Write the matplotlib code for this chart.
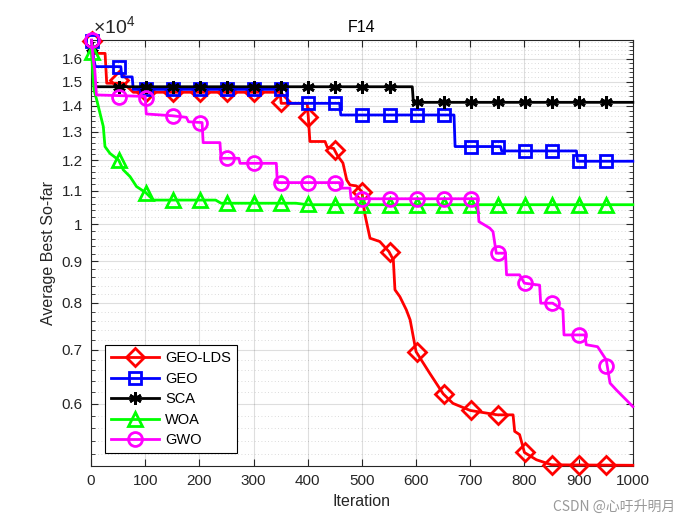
import numpy as np
import matplotlib
matplotlib.use("Agg")
import matplotlib.pyplot as plt
from matplotlib.ticker import FixedLocator, NullFormatter

plt.rcParams['font.family'] = ['Liberation Sans', 'Noto Sans CJK SC', 'DejaVu Sans']
plt.rcParams['mathtext.fontset'] = 'custom'
plt.rcParams['mathtext.rm'] = 'Liberation Sans'

# ---- data ----
names = ["GEO-LDS", "GEO", "SCA", "WOA", "GWO"]
colors = ["#FF0000", "#0000FF", "#000000", "#00FF00", "#FF00FF"]
markers = ["D", "s", (6, 2, 0), "^", "o"]

# curve vertices (iteration, value)
lds_it = [1, 6, 26, 29, 60, 78, 349, 351, 399, 401, 404, 432, 436, 448, 455, 465,
          472, 478, 490, 500, 505, 515, 533, 550, 558, 561, 570, 582, 589, 600,
          625, 650, 668, 700, 750, 779, 782, 791, 800, 822, 850, 1000]
lds_val = [16850, 16250, 16250, 14930, 14930, 14550, 14550, 14100, 14100, 13580,
           12650, 12650, 12450, 12400, 12150, 11900, 11340, 11180, 11150, 10970,
           10320, 9610, 9520, 9250, 9036, 8300, 8140, 7840, 7620, 6960, 6550, 6175,
           6010, 5890, 5817, 5817, 5550, 5500, 5227, 5120, 5047, 5040]

geo_it = [1, 5, 8, 55, 57, 76, 78, 361, 363, 459, 461, 670, 672, 756, 758, 896, 898, 1000]
geo_val = [16850, 16000, 15650, 15650, 15200, 15200, 14670, 14670, 14100, 14100,
           13640, 13640, 12470, 12470, 12315, 12315, 11960, 11960]

sca_it = [1, 6, 593, 595, 1000]
sca_val = [16500, 14780, 14780, 14140, 14140]

woa_it = [1, 3, 5.5, 10.5, 16.6, 22.7, 25.8, 35, 51, 59.6, 72, 78, 84, 101, 115,
          230, 240, 378, 400, 1000]
woa_val = [16300, 15500, 14650, 14240, 13710, 13200, 12470, 12230, 12000, 11670,
           11450, 11290, 11130, 10940, 10710, 10710, 10615, 10615, 10570, 10570]

gwo_it = [1, 4, 7, 10, 100, 102, 150, 176, 180, 205, 207, 238, 240, 273, 275, 342,
          344, 459, 461, 478, 480, 713, 716, 736, 742, 748, 765, 767, 791, 800, 828,
          830, 852, 871, 873, 912, 914, 935, 951, 958, 970, 1000]
gwo_val = [16880, 16000, 15500, 14440, 14380, 13680, 13610, 13550, 13380, 13350,
           12610, 12610, 12060, 12060, 11890, 11890, 11255, 11255, 11080, 11080,
           10750, 10750, 10074, 9890, 9790, 9210, 9210, 8660, 8660, 8457, 8410,
           7990, 7990, 7840, 7300, 7300, 7100, 7060, 6800, 6366, 6240, 5956]

# marker values at iterations 1, 51, ..., 951
mk_it = list(range(1, 1000, 50))
lds_mk = [16850, 15050, 14550, 14550, 14550, 14550, 14550, 14150, 13580, 12350,
          10970, 9250, 6960, 6175, 5890, 5817, 5227, 5047, 5040, 5040]
geo_mk = [16850, 15650, 14670, 14670, 14670, 14670, 14670, 14670, 14100, 14100,
          13640, 13640, 13640, 13640, 12470, 12470, 12315, 12315, 11960, 11960]
sca_mk = [16500] + [14780] * 11 + [14140] * 8
woa_mk = [16300, 12000, 10940, 10710, 10710, 10615, 10615, 10615, 10600, 10570,
          10570, 10570, 10570, 10570, 10570, 10570, 10570, 10570, 10570, 10570]
gwo_mk = [16880, 14370, 14330, 13610, 13350, 12060, 11890, 11255, 11255, 11255,
          10750, 10750, 10750, 10750, 10750, 9210, 8457, 7990, 7300, 6690]

curves = [(lds_it, lds_val, lds_mk), (geo_it, geo_val, geo_mk), (sca_it, sca_val, sca_mk),
          (woa_it, woa_val, woa_mk), (gwo_it, gwo_val, gwo_mk)]
msizes = [9, 8, 9, 10, 10]

y_ticks = [6000, 7000, 8000, 9000, 10000, 11000, 12000, 13000, 14000, 15000, 16000]
y_labels = ["0.6", "0.7", "0.8", "0.9", "1", "1.1", "1.2", "1.3", "1.4", "1.5", "1.6"]
x_ticks = [0, 100, 200, 300, 400, 500, 600, 700, 800, 900, 1000]

# ---- plot ----
fig = plt.figure(figsize=(7, 5.25), dpi=100)
ax = fig.add_axes([0.13, 0.1124, 0.774, 0.8114])
ax.set_yscale('log')

axc = (0.15, 0.15, 0.15)
for i in range(5):
    x, y, m = curves[i]
    ax.plot(x, y, color=colors[i], lw=2, zorder=3 + i * 0.1, clip_on=False)
    ax.plot(mk_it, m, ls='none', marker=markers[i], ms=msizes[i], mfc='none',
            mec=colors[i], mew=2, zorder=3 + i * 0.1, clip_on=False)
    ax.plot([], [], color=colors[i], lw=2, marker=markers[i], ms=msizes[i],
            mfc='none', mec=colors[i], mew=2, label=names[i])

ax.set_xlim(0, 1000)
ax.set_ylim(5030, 16880)
ax.set_xticks(x_ticks)
ax.set_xticklabels([str(t) for t in x_ticks])
ax.yaxis.set_major_locator(FixedLocator(y_ticks))
ax.set_yticklabels(y_labels)
ax.yaxis.set_minor_locator(FixedLocator(list(range(5200, 16880, 200))))
ax.yaxis.set_minor_formatter(NullFormatter())

ax.grid(True, which='major', color=(0.15, 0.15, 0.15), alpha=0.15, lw=0.8)
ax.grid(True, which='minor', axis='y', color=(0.15, 0.15, 0.15), alpha=0.22,
        lw=0.6, ls=(0, (1, 3)))
ax.set_axisbelow(True)

ax.tick_params(which='both', direction='in', top=True, right=True, colors=axc,
               labelsize=11, labelcolor=axc)
ax.tick_params(which='major', length=5, width=0.8, pad=6)
ax.tick_params(which='minor', length=3, width=0.6)
ax.tick_params(axis='x', which='minor', top=False, bottom=False)
for s in ax.spines.values():
    s.set_color(axc)
    s.set_linewidth(0.8)

ax.set_title("F14", fontsize=11.5, color='k', pad=6)
ax.set_xlabel("Iteration", fontsize=11.5, color=axc, labelpad=4)
ax.set_ylabel("Average Best So-far", fontsize=11.5, color=axc, labelpad=4)
ax.text(0.003, 1.004, r"$\times10^{4}$", transform=ax.transAxes, fontsize=14,
        color=axc, ha='left', va='bottom')

leg = ax.legend(loc='lower left', bbox_to_anchor=(0.026, 0.03), borderaxespad=0,
                fontsize=10.5, handlelength=3.3, fancybox=False, framealpha=1,
                edgecolor='k', borderpad=0.4, labelspacing=0.45, handletextpad=0.4)
leg.get_frame().set_linewidth(0.8)
leg.set_zorder(10)

fig.text(0.79, 0.035, "CSDN @心吁升明月", fontsize=10, color=(0.6, 0.6, 0.6),
         family=['Noto Sans CJK SC', 'DejaVu Sans'], ha='left', va='center')

fig.savefig("out.png", dpi=100)
